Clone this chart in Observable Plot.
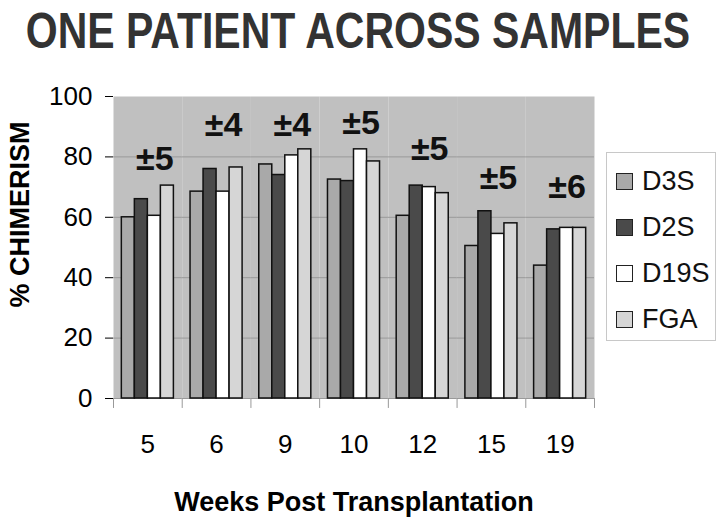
<!DOCTYPE html>
<html>
<head>
<meta charset="utf-8">
<script src="https://cdn.jsdelivr.net/npm/d3@7"></script>
<script src="https://cdn.jsdelivr.net/npm/@observablehq/plot@0.6"></script>
<style>
  html, body { margin: 0; padding: 0; background: white; }
  #wrap { position: relative; width: 720px; height: 522px; overflow: hidden; font-family: "Liberation Sans", Arial, sans-serif; }
  #title { position: absolute; left: 0; top: 0; width: 720px; height: 62px; text-align: center; }
  #title span { display: inline-block; font-weight: bold; font-size: 41px; line-height: 62px; color: #333; transform: scaleY(1.22); margin-left: -4px; }
  #chart { position: absolute; left: 0; top: 62px; }
  #legend { position: absolute; left: 606px; top: 152px; width: 108px; height: 187px; border: 1px solid #c8c8c8; background: white; }
  .row { position: absolute; left: 0; height: 30px; display: flex; align-items: center; }
  .sw { position: absolute; left: 9px; width: 15px; height: 15px; border: 1.5px solid #222; }
  .lab { position: absolute; left: 35px; font-size: 27px; line-height: 30px; white-space: nowrap; color: #111; }
  [aria-label="y-axis tick"] { stroke: #999; }
  [aria-label$="axis label"] { font-weight: bold; font-size: 27px; }
  [aria-label="y-axis label"] { translate: 0 -33px; }
</style>
</head>
<body>
<div id="wrap">
  <div id="title"><span>ONE PATIENT ACROSS SAMPLES</span></div>
  <div id="chart"></div>
  <div id="legend"></div>
</div>
<script>
const weeks = ["5", "6", "9", "10", "12", "15", "19"];
const series = ["D3S", "D2S", "D19S", "FGA"];
const d3s  = [60, 68.5, 77.5, 72.5, 60.5, 50.5, 44];
const d2s  = [66, 76, 74, 72, 70.5, 62, 56];
const d19s = [60.5, 68.5, 80.5, 82.5, 70, 54.5, 56.5];
const fga  = [70.5, 76.5, 82.5, 78.5, 68, 58, 56.5];
const spreadLabels = ["±5", "±4", "±4", "±5", "±5", "±5", "±6"];
const spreadLevels = [75.5, 87, 87, 87.5, 79, 69.5, 66.5];
const colors = ["#a9a9a9", "#4a4a4a", "#ffffff", "#d6d6d6"];

const valuesBySeries = [d3s, d2s, d19s, fga];
const rows = [];
weeks.forEach((w, i) => series.forEach((s, j) => rows.push({week: w, series: s, value: valuesBySeries[j][i]})));
const annots = weeks.map((w, i) => ({week: w, label: spreadLabels[i], level: spreadLevels[i]}));

const W = 720, H = 460, mL = 113, mR = 126, mT = 34, mB = 124;
const padOuter = 0.64;
const facetW = (W - mL - mR) / weeks.length;
const step = facetW / (series.length + 2 * padOuter);
const edge = step * (padOuter + 0.5);

const chart = Plot.plot({
  width: W, height: H,
  marginLeft: mL, marginRight: mR, marginTop: mT, marginBottom: mB,
  style: {fontFamily: "'Liberation Sans', Arial, sans-serif", fontSize: "26px", color: "black", background: "white", overflow: "visible"},
  fx: {domain: weeks, padding: 0, round: false, axis: "bottom", tickSize: 0, tickPadding: 36,
       label: "Weeks Post Transplantation", labelAnchor: "center", labelOffset: 112},
  x: {domain: series, paddingInner: 0, paddingOuter: padOuter, round: false, axis: null},
  y: {domain: [0, 100], ticks: [0, 20, 40, 60, 80, 100], tickSize: 8, tickPadding: 13,
      label: "% CHIMERISM", labelAnchor: "center", labelOffset: 104, labelArrow: false},
  color: {domain: series, range: colors},
  marks: [
    Plot.frame({fill: "#c0c0c0"}),
    Plot.ruleY([20, 40, 60, 80], {stroke: "#999"}),
    Plot.ruleY([0], {stroke: "#999"}),
    Plot.ruleX(weeks, {fx: d => d, x: () => series[0], dx: -edge, y1: 0, y2: -3.3, stroke: "#999"}),
    Plot.ruleX(weeks.slice(-1), {fx: d => d, x: () => series[series.length - 1], dx: edge, y1: 0, y2: -3.3, stroke: "#999"}),
    Plot.barY(rows, {fx: "week", x: "series", y: "value", fill: "series", stroke: "#111", strokeWidth: 1.5}),
    Plot.text(annots, {fx: "week", y: "level", text: "label", dx: 7, fontSize: 34, fontWeight: "bold", lineAnchor: "bottom", fill: "#111"})
  ]
});
document.getElementById("chart").appendChild(chart);

const legend = document.getElementById("legend");
series.forEach((s, i) => {
  const row = document.createElement("div");
  row.className = "row";
  row.style.top = (13 + i * 46) + "px";
  row.style.width = "100%";
  const sw = document.createElement("div");
  sw.className = "sw";
  sw.style.background = colors[i];
  const lab = document.createElement("div");
  lab.className = "lab";
  lab.textContent = s;
  row.appendChild(sw);
  row.appendChild(lab);
  legend.appendChild(row);
});
</script>
</body>
</html>
